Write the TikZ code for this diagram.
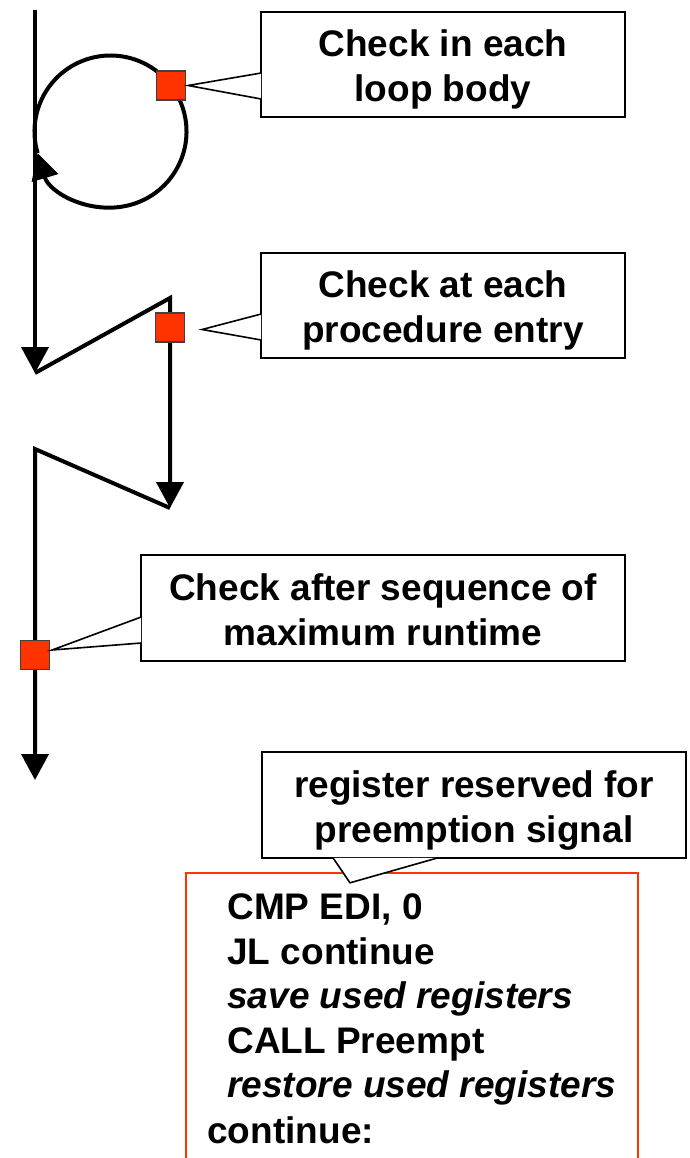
\documentclass[tikz,border=0pt]{standalone}
\usepackage{fontspec}
\setmainfont{Liberation Sans}
\usetikzlibrary{arrows.meta,calc}
\definecolor{chkred}{RGB}{255,51,0}
\tikzset{
  flow/.style={line width=2pt, -{Triangle[length=13pt,width=13.5pt]}},
  chkbox/.style={draw=black!75, fill=chkred, line width=0.6pt, minimum size=14.5pt, inner sep=0pt},
  note/.style={draw, fill=white, line width=0.8pt, inner sep=0pt},
  notetext/.style={anchor=base, inner sep=0pt, font=\bfseries\fontsize{18.5}{22.5}\selectfont},
  pointer/.style={draw, fill=white, line width=0.8pt},
  codeline/.style={anchor=base west, inner sep=0pt, font=\bfseries\fontsize{18.5}{22}\selectfont},
}
\begin{document}
\begin{tikzpicture}[x=0.5pt, y=-0.5pt]
    \useasboundingbox (0,0) rectangle (690,1158);
    \clip (0,0) rectangle (690,1158);
    % control flow
    \draw[flow] (35,10) -- (35,373);
    \coordinate (loop) at (110.5,131.5);
    \draw[flow] (loop) ++(-196.5:76) arc[start angle=-196.5, end angle=163.5, radius=76];
    \draw[flow] (35,373) -- (170,298) -- (170,508);
    \draw[flow] (170,508) -- (35,449) -- (35,780);
    % check points
    \node[chkbox] (loopchk) at (171,85.5) {};
    \node[chkbox] (procchk) at (170,327.5) {};
    \node[chkbox] (runchk) at (35,655) {};
    % callouts
    \node[note, minimum width=182pt, minimum height=52.5pt] (loopnote) at (443,64.5) {};
    \node[notetext] (looptxt1) at ($(loopnote.center)+(0,-8)$) {Check in each};
    \node[notetext] (looptxt2) at ($(loopnote.center)+(0,37)$) {loop body};
    \draw[pointer] ($(loopnote.west)+(1,8.5)$) -- ($(loopchk.east)+(2,0)$) -- ($(loopnote.west)+(1,34.5)$);
    \node[note, minimum width=182pt, minimum height=52.5pt] (procnote) at (443,305.5) {};
    \node[notetext] (proctxt1) at ($(procnote.center)+(0,-8)$) {Check at each};
    \node[notetext] (proctxt2) at ($(procnote.center)+(0,37)$) {procedure entry};
    \draw[pointer] ($(procnote.west)+(1,8.5)$) -- ($(procchk.east)+(17,2)$) -- ($(procnote.west)+(1,34.5)$);
    \node[note, minimum width=242pt, minimum height=53pt] (runnote) at (383,608) {};
    \node[notetext] (runtxt1) at ($(runnote.center)+(0,-8)$) {Check after sequence of};
    \node[notetext] (runtxt2) at ($(runnote.center)+(0,37)$) {maximum runtime};
    \draw[pointer] ($(runnote.west)+(1,9)$) -- ($(runchk.east)+(2,-5)$) -- ($(runnote.west)+(1,35)$);
    % code
    \draw[chkred, line width=0.8pt] (186,873) rectangle (638,1170);
    \node[codeline] (cmp) at (227,919) {CMP EDI, 0};
    \node[codeline] (jl) at (227,964) {JL continue};
    \node[codeline, font=\bfseries\itshape\fontsize{18.5}{22}\selectfont] (save) at (227,1008) {save used registers};
    \node[codeline] (call) at (227,1053) {CALL Preempt};
    \node[codeline, font=\bfseries\itshape\fontsize{18.5}{22}\selectfont] (restore) at (227,1097) {restore used registers};
    \node[codeline] (cont) at (207,1143) {continue:};
    \node[note, minimum width=212pt, minimum height=53pt] (regnote) at (474,805) {};
    \node[notetext] (regtxt1) at ($(regnote.center)+(0,-7.5)$) {register reserved for};
    \node[notetext] (regtxt2) at ($(regnote.center)+(0,37)$) {preemption signal};
    \draw[pointer] ($(regnote.south)+(-141,-1)$) -- ($(regnote.south)+(-124,24)$) -- ($(regnote.south)+(-36,-1)$);
\end{tikzpicture}
\end{document}
